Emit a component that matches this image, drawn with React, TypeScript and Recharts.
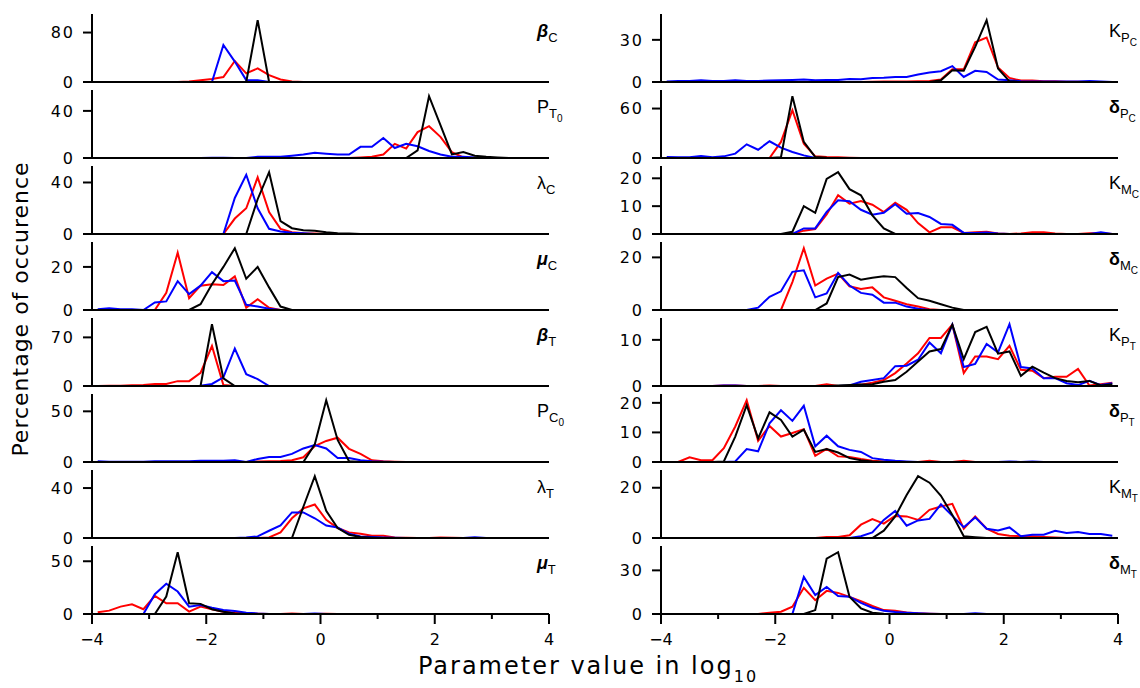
import { LineChart, Line, XAxis, YAxis, ReferenceLine } from "recharts";

// bin centres (log10 parameter value)
const BINS = [
  -3.9, -3.7, -3.5, -3.3, -3.1, -2.9, -2.7, -2.5, -2.3, -2.1,
  -1.9, -1.7, -1.5, -1.3, -1.1, -0.9, -0.7, -0.5, -0.3, -0.1,
  0.1, 0.3, 0.5, 0.7, 0.9, 1.1, 1.3, 1.5, 1.7, 1.9,
  2.1, 2.3, 2.5, 2.7, 2.9, 3.1, 3.3, 3.5, 3.7, 3.9,
];
const X_TICKS = [-4, -3, -2, -1, 0, 1, 2, 3, 4];

// ---- left column ----
const BETA_C_RED = [0,0,0,0,0,0,0,0,1,3, 5,8,34,14,22,11,4,1,0,0, 0,0,0,0,0,0,0,0,0,0, 0,0,0,0,0,0,0,0,0,0];
const BETA_C_BLUE = [0,0,0,0,0,0,0,0,0,0, 0,60,33,3,3,0,0,0,0,0, 0,0,0,0,0,0,0,0,0,0, 0,0,0,0,0,0,0,0,0,0];
const BETA_C_BLACK = [0,0,0,0,0,0,0,0,0,0, 0,0,0,0,100,0,0,0,0,0, 0,0,0,0,0,0,0,0,0,0, 0,0,0,0,0,0,0,0,0,0];

const P_T0_RED = [0,0,0,0,0,0,0,0,0,0, 0,0,0,0,0,0,0,0,0,0, 0,0,0,0.5,1,3,12,8,22,27, 18,5,0.5,0,0,0,0,0,0,0];
const P_T0_BLUE = [0,0,0,0,0,0,0,0,0,0, 0.3,0.3,0,0,1,1,1,2,3,4.5, 3.7,3,3,9.5,9.5,17,8.5,12,10,6, 3,1,1,0.5,0,0,0,0,0,0];
const P_T0_BLACK = [0,0,0,0,0,0,0,0,0,0, 0,0,0,0,0,0,0,0,0,0, 0,0,0,0,0,0,0,0,6.5,52.5, 28,3,5,2,1,0.5,0,0,0,0];

const LAMBDA_C_RED = [0,0,0,0,0,0,0,0,0,0, 0,0,12,20,44,17,4,1.3,0.5,0.3, 0,0,0,0,0,0,0,0,0,0, 0,0,0,0,0,0,0,0,0,0];
const LAMBDA_C_BLUE = [0,0,0,0,0,0,0,0,0,0, 0,0,28,46,20,4,2,1,0.5,0, 0,0,0,0,0,0,0,0,0,0, 0,0,0,0,0,0,0,0,0,0];
const LAMBDA_C_BLACK = [0,0,0,0,0,0,0,0,0,0, 0,0,0,0,27,48,10,4.5,3,2.6, 1.3,0.5,0.3,0,0,0,0,0,0,0, 0,0,0,0,0,0,0,0,0,0];

const MU_C_RED = [0,0,0,0,0,0,8,26.6,5.5,11.3, 12,11.6,15.6,1.1,5,1,0,0,0,0, 0,0,0,0,0,0,0,0,0,0, 0,0,0,0,0,0,0,0,0,0];
const MU_C_BLUE = [0.3,0.8,0.3,0.3,0,3.5,4,13.4,7.4,11.3, 17.6,13.4,13.7,2.4,1.6,0.6,0,0,0,0, 0,0,0,0,0,0,0,0,0,0, 0,0,0,0,0,0,0,0,0,0];
const MU_C_BLACK = [0,0,0,0,0,0,0,0,0,2.7, 12,20,28.7,14.5,20,10.5,1.6,0,0,0, 0,0,0,0,0,0,0,0,0,0, 0,0,0,0,0,0,0,0,0,0];

const BETA_T_RED = [0,0.3,0.3,1,1.4,3,3,7,7,19, 57.5,1.4,0,0,0,0,0,0,0,0, 0,0,0,0,0,0,0,0,0,0, 0,0,0,0,0,0,0,0,0,0];
const BETA_T_BLUE = [0,0,0,0,0,0,0,0,0,0.5, 3,12.5,54,17,10,0,0,0,0,0, 0,0,0,0,0,0,0,0,0,0, 0,0,0,0,0,0,0,0,0,0];
const BETA_T_BLACK = [0,0,0,0,0,0,0,0,0,0, 89,11,0,0,0,0,0,0,0,0, 0,0,0,0,0,0,0,0,0,0, 0,0,0,0,0,0,0,0,0,0];

const P_C0_RED = [0,0,0,0,0,0,0,0,0,0, 0,0,0,0,0.5,0.7,1,1.7,4.7,15.8, 20.8,24,13,8,1.7,0.7,0.3,0,0,0, 0,0,0,0,0,0,0,0,0,0];
const P_C0_BLUE = [0.7,0.3,0.3,0.3,0.3,0.7,0.7,0.7,0.7,1.3, 1.3,1.3,1.7,0,3,5,5,8,13.4,16.8, 13.4,4,4,1.7,0.7,0.3,0,0,0,0, 0,0,0,0,0,0,0,0,0,0];
const P_C0_BLACK = [0,0,0,0,0,0,0,0,0,0, 0,0,0,0,0,0,0,0,0,17.4, 61,21.8,0.7,0,0,0,0,0,0,0, 0,0,0,0,0,0,0,0,0,0];

const LAMBDA_T_RED = [0,0,0,0,0,0,0,0,0,0, 0,0,0,0,0,0.5,4.5,15.8,23.7,26.8, 14.5,8,4.5,3.4,1.8,1.8,0.5,0.3,0,0, 0.5,0.3,0,0,0,0,0,0,0,0];
const LAMBDA_T_BLUE = [0,0,0,0,0,0,0,0,0,0, 0,0,0,0.5,1.3,5.8,10,20.5,20.5,15.8, 10,8.4,3.4,1.3,0.8,0.5,0.3,0,0,0, 0,0,0,0.5,0,0,0,0,0,0];
const LAMBDA_T_BLACK = [0,0,0,0,0,0,0,0,0,0, 0,0,0,0,0,0,0,0,25,49.5, 21.8,8,2.6,0.8,0.3,0,0,0,0,0, 0,0,0,0,0,0,0,0,0,0];

const MU_T_RED = [1.6,3.2,7,9.2,4.5,17.2,10.2,10.2,2.2,7, 4.5,2.2,1.3,0.6,0.3,0,0,0.5,0,0, 0.3,0,0,0,0,0,0,0,0,0, 0,0,0,0,0,0,0,0,0,0];
const MU_T_BLUE = [0,0,0,0,0,18.8,28.7,21.3,7,8.6, 6,3.8,2.9,1.3,0.5,0,0,0,0,0.5, 0,0,0,0,0,0,0,0,0,0, 0,0,0,0,0,0,0,0,0,0];
const MU_T_BLACK = [0,0,0,0,0,0,16.6,58.6,10.2,9.6, 4.5,2.2,0.5,0,0,0,0,0,0,0, 0,0,0,0,0,0,0,0,0,0, 0,0,0,0,0,0,0,0,0,0];

// ---- right column ----
const K_PC_RED = [0,0,0,0,0,0,0,0,0,0, 0,0,0,0,0,0,0,0,0.2,0.3, 0.3,0.3,0.5,0.7,1.7,9,9,28.3,31.7,10.3, 2.9,1,1,0.5,0.5,0.2,0.2,0,0,0];
const K_PC_BLUE = [0.3,0.7,0.7,1.2,0.7,0.7,1.2,0.7,0.7,1, 1.2,1.4,1.7,1.2,1.4,1.4,2.2,1.9,2.9,3.1, 3.6,3.6,5.3,6.7,7.7,11.3,3.6,8,7.2,1.7, 1.2,0.5,0.3,0.3,0.3,0.3,0.3,0.7,0.3,0];
const K_PC_BLACK = [0,0,0,0,0,0,0,0,0,0, 0,0,0,0,0,0,0,0,0,0, 0,0,0,0,1.2,8.4,8,25,44,9.6, 0.5,0,0,0,0,0,0,0,0,0];

const D_PC_RED = [0,0,0,0,0,0,0,0,0,0, 19.5,58,17.4,2,1.2,0.8,0.3,0,0,0, 0,0,0,0,0,0,0,0,0,0, 0,0,0,0,0,0,0,0,0,0];
const D_PC_BLUE = [1.2,0.8,0.8,2.4,0.8,2,5.3,16.6,10,20.3, 12.6,7.3,3.2,0,0,0,0,0,0,0, 0,0,0,0,0,0,0,0,0,0, 0,0,0,0,0,0,0,0,0,0];
const D_PC_BLACK = [0,0,0,0,0,0,0,0,0,0, 1,75,19.5,1.2,0.3,0,0,0,0,0, 0,0,0,0,0,0,0,0,0,0, 0,0,0,0,0,0,0,0,0,0];

const K_MC_RED = [0,0,0,0,0,0,0,0,0,0, 0,0,1.2,1.8,7,13.9,10.9,11.8,10.5,7.9, 11.2,8.7,3.9,0.6,2.4,2.4,0.4,0.6,0.8,0.2, 0,0.2,0.6,0.6,0.2,0,0,0.3,0.3,0];
const K_MC_BLUE = [0,0,0,0,0,0,0,0,0,0, 0,0,2,2,7.9,12.1,11.8,8.7,6.9,7.6, 10.7,7.3,7.5,6.1,3.6,3.3,0.4,0.4,0.5,0.2, 0,0,0,0,0,0,0,0,0.6,0];
const K_MC_BLACK = [0,0,0,0,0,0,0,0,0,0, 0,0.8,10,7.6,19.8,22.2,16.1,13.9,6.7,2, 0,0,0,0,0,0,0,0,0,0, 0,0,0,0,0,0,0,0,0,0];

const D_MC_RED = [0,0,0,0,0,0,0,0,0,0, 0,10.6,23.5,9.3,11.9,13.8,9,8,8.6,4.8, 3.5,2.2,1.3,0.3,0,0,0,0,0,0, 0,0,0,0,0,0,0,0,0,0];
const D_MC_BLUE = [0,0,0,0,0,0,0,0,0.9,5, 7.1,14.5,15.1,4.8,6.3,14.1,9.3,6.5,5.8,2.8, 2.8,1.3,0.5,0,0,0,0,0,0,0, 0,0,0,0,0,0,0,0,0,0];
const D_MC_BLACK = [0,0,0,0,0,0,0,0,0,0, 0,0,0,0,2.5,12.5,13.5,11.5,12.3,12.8, 12.5,8.4,4.5,3.5,2.2,0.9,0,0,0,0, 0,0,0,0,0,0,0,0,0,0];

const K_PT_RED = [0,0,0,0,0,0.1,0.1,0,0,0.1, 0,0,0,0,0.4,0,0,0.3,0.7,1.3, 2.8,4.9,7.1,10.4,10.4,13.3,2.8,6.4,6.4,5.8, 8.7,3.5,3.3,1.7,2,2,3.7,0.1,0.4,0.7];
const K_PT_BLUE = [0,0,0,0,0,0.1,0.1,0,0,0, 0,0,0,0,0,0,0.1,0.9,1.3,1.7, 4.3,4.4,5.7,9.4,7.1,13.3,4.1,4.8,9.1,7.3, 13.4,4.1,3.8,1.7,1.7,0.6,0.2,1.1,0.2,0.6];
const K_PT_BLACK = [0,0,0,0,0,0,0,0,0,0, 0,0,0,0,0,0.1,0.2,0.3,0.4,0.9, 1.3,3.1,5.3,7.5,8,13.3,5.8,11.7,12.8,7, 7.5,2.2,4.2,2.9,1.7,1.1,0.8,1.1,0.1,0.4];

const D_PT_RED = [0,0,1.6,0.6,0.6,4.7,12,20.9,7.2,12.2, 8.6,9.8,11.1,2.1,4.4,1.9,1.7,1,0.4,0.2, 0.2,0,0,0.4,0,0,0.4,0,0,0, 0,0,0,0,0,0,0,0,0,0];
const D_PT_BLUE = [0,0,0,0,0,0,0.2,4.4,3.6,13.1, 17.5,13.9,19,5.3,8.9,5.3,4.1,3.4,1.3,0.8, 0.4,0.2,0,0,0,0,0,0,0,0, 0.2,0,0.2,0,0,0,0,0,0,0];
const D_PT_BLACK = [0,0,0,0,0,0.2,8.6,19.2,8,16.8, 14.2,8.6,10.9,3.4,4.4,3.2,1.3,0.6,0.2,0, 0,0,0,0,0,0,0,0,0,0, 0,0,0,0,0,0,0,0,0,0];

const K_MT_RED = [0,0,0,0,0,0,0,0,0,0, 0,0,0,0,0.4,0.4,1.1,5.3,7.5,5.7, 8.8,8.6,7.2,11.2,12.5,13.6,3.7,8.6,3.7,1.6, 0.9,0.7,0.7,0.4,0.2,0,0,0,0,0];
const K_MT_BLUE = [0,0,0,0,0,0,0,0,0,0, 0,0,0,0,0,0,0,0.7,2.2,7.2, 10.8,4.9,7,7.6,13.4,8.8,4.3,8.2,3.7,3, 4.2,0.7,1.3,1.3,2.9,2,2.4,1.6,1.6,0.9];
const K_MT_BLACK = [0,0,0,0,0,0,0,0,0,0, 0,0,0,0,0,0,0,0,0,2.9, 8.6,17.1,24.6,22,16.8,9.2,0.7,0.3,0,0, 0,0,0,0,0,0,0,0,0,0];

const D_MT_RED = [0,0,0,0,0,0,0,0,0,0.9, 1.6,5,18,9.5,15.9,14.5,11.8,8.9,5.5,2.7, 2.3,1.1,0.5,0.2,0,0,0,0,0,0, 0,0,0,0,0,0,0,0,0,0];
const D_MT_BLUE = [0,0,0,0,0,0,0,0,0,0, 0,0,25.5,13,18.6,12.3,11.8,7.7,4.3,2.3, 1.4,0.9,0.5,0.2,0,0,0,0.5,0,0, 0,0,0,0,0,0,0,0,0,0];
const D_MT_BLACK = [0,0,0,0,0,0,0,0,0,0, 0,0,0,2.7,38,42.5,11.8,3.9,0.9,0.2, 0,0,0,0,0,0,0,0,0,0, 0,0,0,0,0,0,0,0,0,0];

type Seg = { t: string; lvl: number; it?: boolean; bold?: boolean };

const PANELS: {
  label: Seg[]; red: number[]; blue: number[]; black: number[];
  yTicks: number[]; col: number; row: number;
}[] = [
  { label: [{ t: "β", lvl: 0, it: true, bold: true }, { t: "C", lvl: 1 }], red: BETA_C_RED, blue: BETA_C_BLUE, black: BETA_C_BLACK, yTicks: [0, 80], col: 0, row: 0 },
  { label: [{ t: "P", lvl: 0 }, { t: "T", lvl: 1 }, { t: "0", lvl: 2 }], red: P_T0_RED, blue: P_T0_BLUE, black: P_T0_BLACK, yTicks: [0, 40], col: 0, row: 1 },
  { label: [{ t: "λ", lvl: 0 }, { t: "C", lvl: 1 }], red: LAMBDA_C_RED, blue: LAMBDA_C_BLUE, black: LAMBDA_C_BLACK, yTicks: [0, 40], col: 0, row: 2 },
  { label: [{ t: "μ", lvl: 0, it: true, bold: true }, { t: "C", lvl: 1 }], red: MU_C_RED, blue: MU_C_BLUE, black: MU_C_BLACK, yTicks: [0, 20], col: 0, row: 3 },
  { label: [{ t: "β", lvl: 0, it: true, bold: true }, { t: "T", lvl: 1 }], red: BETA_T_RED, blue: BETA_T_BLUE, black: BETA_T_BLACK, yTicks: [0, 70], col: 0, row: 4 },
  { label: [{ t: "P", lvl: 0 }, { t: "C", lvl: 1 }, { t: "0", lvl: 2 }], red: P_C0_RED, blue: P_C0_BLUE, black: P_C0_BLACK, yTicks: [0, 50], col: 0, row: 5 },
  { label: [{ t: "λ", lvl: 0 }, { t: "T", lvl: 1 }], red: LAMBDA_T_RED, blue: LAMBDA_T_BLUE, black: LAMBDA_T_BLACK, yTicks: [0, 40], col: 0, row: 6 },
  { label: [{ t: "μ", lvl: 0, it: true, bold: true }, { t: "T", lvl: 1 }], red: MU_T_RED, blue: MU_T_BLUE, black: MU_T_BLACK, yTicks: [0, 50], col: 0, row: 7 },
  { label: [{ t: "K", lvl: 0 }, { t: "P", lvl: 1 }, { t: "C", lvl: 2 }], red: K_PC_RED, blue: K_PC_BLUE, black: K_PC_BLACK, yTicks: [0, 30], col: 1, row: 0 },
  { label: [{ t: "δ", lvl: 0, bold: true }, { t: "P", lvl: 1 }, { t: "C", lvl: 2 }], red: D_PC_RED, blue: D_PC_BLUE, black: D_PC_BLACK, yTicks: [0, 60], col: 1, row: 1 },
  { label: [{ t: "K", lvl: 0 }, { t: "M", lvl: 1 }, { t: "C", lvl: 2 }], red: K_MC_RED, blue: K_MC_BLUE, black: K_MC_BLACK, yTicks: [0, 10, 20], col: 1, row: 2 },
  { label: [{ t: "δ", lvl: 0, bold: true }, { t: "M", lvl: 1 }, { t: "C", lvl: 2 }], red: D_MC_RED, blue: D_MC_BLUE, black: D_MC_BLACK, yTicks: [0, 20], col: 1, row: 3 },
  { label: [{ t: "K", lvl: 0 }, { t: "P", lvl: 1 }, { t: "T", lvl: 2 }], red: K_PT_RED, blue: K_PT_BLUE, black: K_PT_BLACK, yTicks: [0, 10], col: 1, row: 4 },
  { label: [{ t: "δ", lvl: 0, bold: true }, { t: "P", lvl: 1 }, { t: "T", lvl: 2 }], red: D_PT_RED, blue: D_PT_BLUE, black: D_PT_BLACK, yTicks: [0, 10, 20], col: 1, row: 5 },
  { label: [{ t: "K", lvl: 0 }, { t: "M", lvl: 1 }, { t: "T", lvl: 2 }], red: K_MT_RED, blue: K_MT_BLUE, black: K_MT_BLACK, yTicks: [0, 20], col: 1, row: 6 },
  { label: [{ t: "δ", lvl: 0, bold: true }, { t: "M", lvl: 1 }, { t: "T", lvl: 2 }], red: D_MT_RED, blue: D_MT_BLUE, black: D_MT_BLACK, yTicks: [0, 30], col: 1, row: 7 },
];

const PLOT_W = 457;
const PLOT_H = 68;
const ROW_STEP = 76;
const Y_W = 60;
const TOP_PAD = 3;
const RIGHT_PAD = 6;
const COL_LEFT = [92, 661];
const LABEL_LEFT = [537, 1109];
const TICK_FONT = "'DejaVu Sans', 'Liberation Sans', sans-serif";

function Panel({ p }: { p: (typeof PANELS)[number] }) {
  const bottom = p.row === 7;
  const axisH = bottom ? 50 : 14;
  const plotLeft = COL_LEFT[p.col];
  const plotTop = 14 + ROW_STEP * p.row;
  const data = BINS.map((x, i) => ({ x, red: p.red[i], blue: p.blue[i], black: p.black[i] }));
  const ymax = Math.max(...p.red, ...p.blue, ...p.black) * 1.1;
  const base = TOP_PAD + PLOT_H;

  const bottomTick = (props: any) => {
    const v = props.payload.value;
    const major = v % 2 === 0;
    return (
      <g>
        <line x1={props.x} x2={props.x} y1={base} y2={base + (major ? 10 : 5)} stroke="#000" strokeWidth={2} />
        {major && (
          <text x={props.x} y={base + 31} textAnchor="middle" fontFamily={TICK_FONT} fontSize={16} fill="#000">
            {v < 0 ? "\u2212" + Math.abs(v) : String(v)}
          </text>
        )}
      </g>
    );
  };

  return (
    <>
      <div style={{ position: "absolute", left: plotLeft - Y_W, top: plotTop - TOP_PAD, zIndex: 20 - p.row }}>
        <LineChart
          width={Y_W + PLOT_W + RIGHT_PAD}
          height={TOP_PAD + PLOT_H + axisH}
          data={data}
          margin={{ top: TOP_PAD, right: RIGHT_PAD, bottom: 0, left: 0 }}
        >
          <XAxis
            type="number"
            dataKey="x"
            domain={[-4, 4]}
            allowDataOverflow
            ticks={X_TICKS}
            interval={0}
            height={axisH}
            stroke="#000"
            strokeWidth={2}
            tickLine={false}
            tick={bottom ? bottomTick : false}
          />
          <YAxis
            type="number"
            domain={[0, ymax]}
            allowDataOverflow
            ticks={p.yTicks}
            interval={0}
            width={Y_W}
            stroke="#000"
            strokeWidth={2}
            tickSize={9}
            tickMargin={8}
            tick={{ fontFamily: TICK_FONT, fontSize: 16, fill: "#000", letterSpacing: 2 }}
          />
          <Line type="linear" dataKey="red" stroke="#ff0000" strokeWidth={2} dot={false} isAnimationActive={false} />
          <Line type="linear" dataKey="blue" stroke="#0000ff" strokeWidth={2} dot={false} isAnimationActive={false} />
          <Line type="linear" dataKey="black" stroke="#000000" strokeWidth={2} dot={false} isAnimationActive={false} />
          <ReferenceLine y={0} stroke="#000" strokeWidth={2} />
        </LineChart>
      </div>
      <div
        style={{
          position: "absolute",
          left: LABEL_LEFT[p.col],
          top: plotTop + 7,
          zIndex: 30,
          fontFamily: "'Liberation Sans', Arial, sans-serif",
          whiteSpace: "nowrap",
          color: "#000",
        }}
      >
        {p.label.map((s, i) => (
          <span
            key={i}
            style={{
              position: "relative",
              fontSize: s.lvl === 0 ? 18 : s.lvl === 1 ? 13 : 10,
              top: s.lvl === 0 ? 0 : s.lvl === 1 ? 5 : 9,
              fontStyle: s.it ? "italic" : "normal",
              fontWeight: s.bold ? "bold" : "normal",
            }}
          >
            {s.t}
          </span>
        ))}
      </div>
    </>
  );
}

export default function App() {
  return (
    <div style={{ position: "absolute", left: 0, top: 0, width: 1140, height: 688, background: "#fff", overflow: "hidden" }}>
      {PANELS.map((p, i) => (
        <Panel key={i} p={p} />
      ))}
      <div
        style={{
          position: "absolute",
          left: 21 - 200,
          top: 309 - 15,
          width: 400,
          height: 30,
          lineHeight: "30px",
          textAlign: "center",
          transform: "rotate(-90deg)",
          fontFamily: TICK_FONT,
          fontSize: 22,
          letterSpacing: 1,
          color: "#000",
          whiteSpace: "nowrap",
        }}
      >
        Percentage of occurence
      </div>
      <div
        style={{
          position: "absolute",
          left: 588 - 250,
          top: 652,
          width: 500,
          textAlign: "center",
          fontFamily: TICK_FONT,
          fontSize: 24,
          letterSpacing: 2,
          color: "#000",
          whiteSpace: "nowrap",
        }}
      >
        Parameter value in log
        <span style={{ fontSize: 16, position: "relative", top: 8 }}>10</span>
      </div>
    </div>
  );
}
